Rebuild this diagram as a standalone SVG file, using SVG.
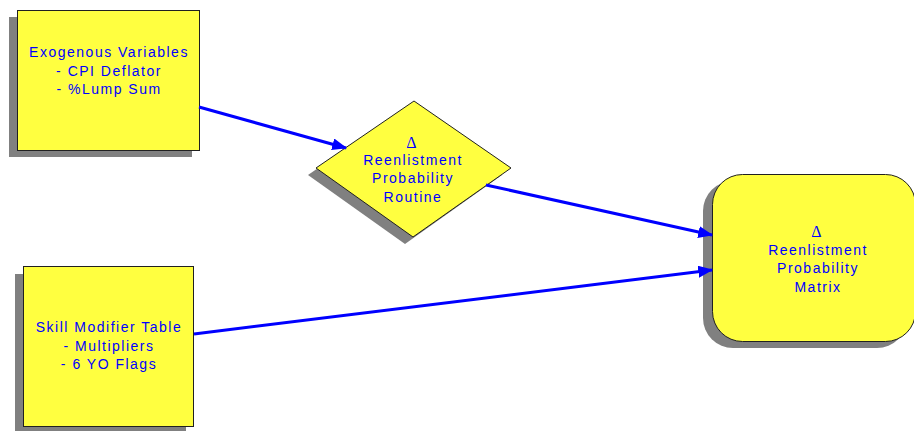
<svg xmlns="http://www.w3.org/2000/svg" width="914" height="431" viewBox="0 0 914 431">
  <style>
    .shadow { fill: #808080; }
    .node { fill: #ffff40; stroke: #202020; stroke-width: 1; }
    .label { font-family: "Liberation Sans", Arial, sans-serif; font-size: 14px; letter-spacing: 1.5px; fill: #0000ff; text-anchor: middle; }
    .delta { font-family: "Liberation Serif", "Times New Roman", serif; font-size: 16px; fill: #0000ff; text-anchor: middle; }
    .edge { stroke: #0000ff; stroke-width: 3; fill: none; marker-end: url(#arrow); }
  </style>
  <defs>
    <marker id="arrow" markerWidth="5" markerHeight="4" refX="4.6" refY="2" orient="auto" markerUnits="strokeWidth">
      <path d="M0,0 L5,2 L0,4 Z" fill="#0000ff"/>
    </marker>
  </defs>
  <rect width="914" height="431" fill="#ffffff"/>

  <g id="exogenous">
    <rect class="shadow" x="9" y="17" width="183" height="140"/>
    <rect class="node" x="17.5" y="10.5" width="182" height="140"/>
    <text class="label" x="109" y="57">Exogenous Variables</text>
    <text class="label" x="109" y="76">- CPI Deflator</text>
    <text class="label" x="109" y="94">- %Lump Sum</text>
  </g>

  <g id="skill-modifier">
    <rect class="shadow" x="15" y="274" width="171" height="160"/>
    <rect class="node" x="23.5" y="266.5" width="170" height="160"/>
    <text class="label" x="109" y="332">Skill Modifier Table</text>
    <text class="label" x="109" y="351">- Multipliers</text>
    <text class="label" x="109" y="369">- 6 YO Flags</text>
  </g>

  <g id="routine">
    <polygon class="shadow" points="405,108 308,175 405,244 502,175"/>
    <polygon class="node" points="414,101 316,168 413,237 511,168"/>
    <text class="delta" x="411.5" y="148">Δ</text>
    <text class="label" x="413" y="165">Reenlistment</text>
    <text class="label" x="413" y="183">Probability</text>
    <text class="label" x="413" y="202">Routine</text>
  </g>

  <g id="matrix">
    <rect class="shadow" x="703" y="181" width="204" height="167" rx="30" ry="30"/>
    <rect class="node" x="712.5" y="174.5" width="203" height="167" rx="30" ry="30"/>
    <text class="delta" x="816.5" y="237">Δ</text>
    <text class="label" x="818" y="255">Reenlistment</text>
    <text class="label" x="818" y="273">Probability</text>
    <text class="label" x="818" y="292">Matrix</text>
  </g>

  <g id="connectors">
    <line class="edge" x1="199" y1="107" x2="346" y2="148"/>
    <line class="edge" x1="486" y1="185" x2="712" y2="235"/>
    <line class="edge" x1="194" y1="334" x2="712" y2="270"/>
  </g>
</svg>
